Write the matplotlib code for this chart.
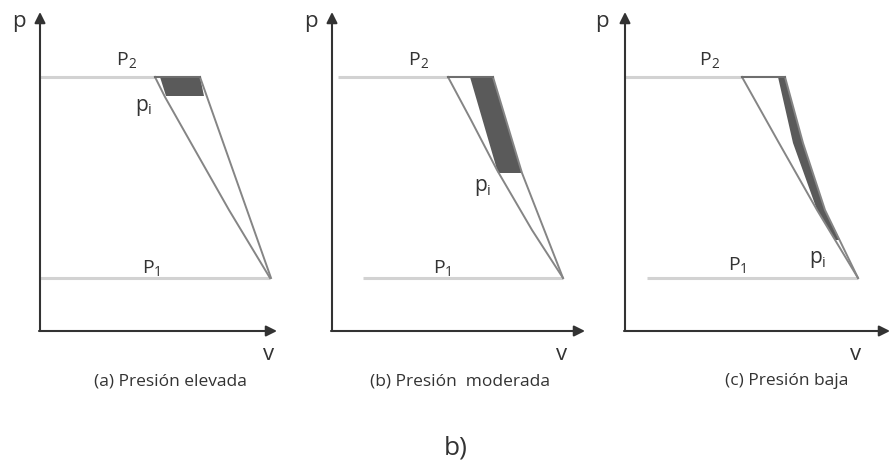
import matplotlib
matplotlib.use("Agg")
import matplotlib.pyplot as plt
from matplotlib.patches import Polygon

plt.rcParams["font.family"] = ["Open Sans", "DejaVu Sans"]

# diagram values (pixel units, y grows downward)
AXIS_X = [40, 332, 625]          # position of the p axis in each panel
AXIS_END = [277, 585, 890]       # tip of the v axis
AXIS_Y = 331                     # level of the v axis
AXIS_TOP = 12                    # tip of the p axis
P2_Y = 77
P1_Y = 278
P2_START = [40, 338, 625]
P1_START = [40, 363, 647]

# left (curved) compression line, one list per panel
LEFT_Y = [[77, 97, 143, 210, 278],
          [77, 120, 170, 230, 278],
          [77, 143, 210, 278]]
LEFT_X = [[155, 165, 191, 229, 270],
          [448, 471, 497, 532, 563],
          [742, 779, 817, 858]]

# right compression line
RIGHT_Y = [[77, 278],
           [77, 173, 278],
           [77, 143, 210, 278]]
RIGHT_X = [[200, 271],
           [493, 522, 563],
           [785, 803, 825, 858]]

# shaded work areas
SHADE_X = [[160, 200, 204, 166],
           [470, 493, 522, 498],
           [778, 785, 803, 825, 840, 835, 817, 793]]
SHADE_Y = [[77, 77, 96, 96],
           [77, 77, 173, 173],
           [77, 77, 143, 210, 240, 240, 210, 143]]

CAPTIONS = ["(a) Presión elevada", "(b) Presión  moderada", "(c) Presión baja"]
CAPTION_X = [170, 460, 787]
P_LABEL_X = [19, 311, 602]
V_LABEL_X = [269, 562, 856]
P2_LABEL_X = [123, 415, 706]
P1_LABEL_X = [150, 441, 736]
PI_LABEL = [(146, 105), (485, 186), (820, 258)]
P1_LABEL_Y = [268, 268, 265]

AXIS_COLOR = "#333333"
LINE_COLOR = "#858585"
LEVEL_COLOR = "#d2d2d2"
SHADE_COLOR = "#5a5a5a"
TEXT_COLOR = "#333333"


def sub_label(ax, x, y, main, sub, size):
    t = ax.text(x, y, main, fontsize=size, color=TEXT_COLOR,
                ha="right", va="center")
    ax.text(x, y + size * 0.35, sub, fontsize=size * 0.7, color=TEXT_COLOR,
            ha="left", va="center")
    return t


fig = plt.figure(figsize=(8.91, 4.70), dpi=100, facecolor="white")
ax = fig.add_axes([0, 0, 1, 1])
ax.set_xlim(0, 891)
ax.set_ylim(470, 0)
ax.axis("off")

for i in range(3):
    x0 = AXIS_X[i]

    # pressure levels
    ax.plot([P2_START[i], LEFT_X[i][0]], [P2_Y, P2_Y], color=LEVEL_COLOR, lw=2.2,
            solid_capstyle="butt")
    ax.plot([P1_START[i], LEFT_X[i][-1]], [P1_Y, P1_Y], color=LEVEL_COLOR, lw=2.2,
            solid_capstyle="butt")

    # shaded area
    ax.add_patch(Polygon(list(zip(SHADE_X[i], SHADE_Y[i])), closed=True,
                         facecolor=SHADE_COLOR, edgecolor="none", zorder=2))

    # compression lines
    ax.plot(LEFT_X[i], LEFT_Y[i], color=LINE_COLOR, lw=1.4, zorder=3)
    ax.plot(RIGHT_X[i], RIGHT_Y[i], color=LINE_COLOR, lw=1.4, zorder=3)
    ax.plot([LEFT_X[i][0], RIGHT_X[i][0]], [P2_Y, P2_Y], color="#6e6e6e",
            lw=1.5, zorder=3)

    # axes with arrows
    ax.annotate("", xy=(x0, AXIS_TOP), xytext=(x0, AXIS_Y),
                arrowprops=dict(arrowstyle="-|>", color=AXIS_COLOR, lw=1.5,
                                mutation_scale=16, shrinkA=0, shrinkB=0))
    ax.annotate("", xy=(AXIS_END[i], AXIS_Y), xytext=(x0 - 1, AXIS_Y),
                arrowprops=dict(arrowstyle="-|>", color=AXIS_COLOR, lw=1.5,
                                mutation_scale=16, shrinkA=0, shrinkB=0))

    ax.text(P_LABEL_X[i], 21, "p", fontsize=16, color=TEXT_COLOR,
            ha="center", va="center")
    ax.text(V_LABEL_X[i], 354, "v", fontsize=16, color=TEXT_COLOR,
            ha="center", va="center")

    sub_label(ax, P2_LABEL_X[i] + 5, 60, "P", "2", 14)
    sub_label(ax, P1_LABEL_X[i] + 4, P1_LABEL_Y[i], "P", "1", 14)
    sub_label(ax, PI_LABEL[i][0] + 2, PI_LABEL[i][1], "p", "i", 15)

    ax.text(CAPTION_X[i], 381, CAPTIONS[i], fontsize=12.5, color=TEXT_COLOR,
            ha="center", va="center")

ax.text(456, 448, "b)", fontsize=19, color=TEXT_COLOR, ha="center", va="center")

fig.savefig("out.png", dpi=100, facecolor="white")
